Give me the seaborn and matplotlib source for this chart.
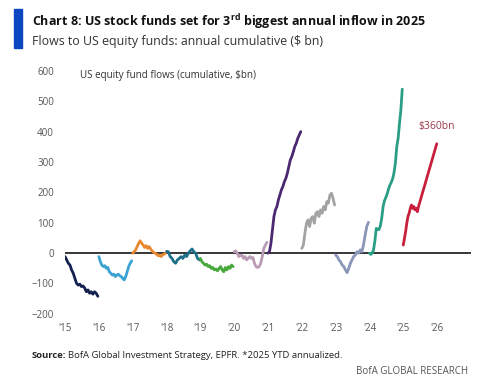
import numpy as np
import pandas as pd
import seaborn as sns
import matplotlib.pyplot as plt
from matplotlib.patches import Rectangle

sns.set_theme(style="white")
plt.rcParams['font.family'] = ['Open Sans', 'DejaVu Sans']
plt.rcParams['mathtext.fontset'] = 'custom'
plt.rcParams['mathtext.rm'] = 'Open Sans'
plt.rcParams['mathtext.bf'] = 'Open Sans:bold'

# cumulative flows ($bn), evenly spaced through each year
flows_2015 = [-12, -23, -34, -40, -56, -67, -84, -100, -106, -103, -111, -109, -116, -128, -122, -133, -128, -136, -128, -133, -143]
flows_2016 = [-12, -29, -40, -45, -42, -51, -48, -62, -67, -73, -70, -78, -73, -70, -75, -78, -84, -89, -78, -62, -45, -34, -26]
flows_2017 = [-1, 4, 10, 21, 32, 40, 32, 26, 18, 24, 15, 21, 13, 7, 2, -1, -4, -9, -7, -12, -7, -4, -1]
flows_2018 = [5, 4, -12, -18, -29, -34, -23, -18, -12, -18, -7, -12, -1, 7, 13, 4, -1, -18, -23]
flows_2019 = [-18, -29, -34, -40, -37, -45, -42, -51, -48, -56, -53, -59, -51, -45, -56, -62, -48, -56, -45, -51, -40, -45]
flows_2020 = [4, 7, -1, -12, -9, -7, -18, -12, -23, -18, -12, -18, -15, -34, -45, -48, -45, -34, -12, 15, 26, 35]
flows_2021 = [-1, 4, 32, 76, 120, 142, 153, 175, 191, 208, 219, 235, 246, 263, 285, 307, 318, 334, 351, 362, 378, 389, 400]
flows_2022 = [15, 26, 65, 98, 109, 87, 114, 120, 98, 131, 136, 120, 142, 131, 153, 142, 169, 164, 191, 197, 180, 158]
flows_2023 = [-7, -12, -23, -29, -40, -45, -56, -65, -51, -34, -23, -12, -7, 4, -1, 10, 4, 26, 59, 87, 101]
flows_2024 = [-1, -5, 0, 10, 40, 81, 78, 77, 90, 115, 153, 172, 183, 195, 211, 224, 233, 245, 265, 297, 351, 378, 428, 472, 540]
flows_2025_ytd = [26, 48, 70, 98, 120, 131, 147, 158, 147, 153, 142, 147, 136, 153]
ytd_share_2025 = 0.456
annualized_2025 = 360

years = list(range(2015, 2026))
series = [flows_2015, flows_2016, flows_2017, flows_2018, flows_2019, flows_2020,
          flows_2021, flows_2022, flows_2023, flows_2024]
colors = ['#14204f', '#3ba3d3', '#e8892f', '#1d6f8a', '#48a83c', '#b99bb5',
          '#4b2870', '#a3a3a3', '#8a96b8', '#2a9d85', '#c8203c']
tick_years = list(range(2015, 2027))
tick_labels = ["'%02d" % (y % 100) for y in tick_years]

rows = []
for yr, vals in zip(years[:-1], series):
    xs = yr + np.linspace(0, 0.97, len(vals))
    rows += [(str(yr), x, v) for x, v in zip(xs, vals)]
xs25 = 2025 + np.linspace(0, ytd_share_2025 * 0.99, len(flows_2025_ytd))
rows += [('2025', x, v) for x, v in zip(xs25, flows_2025_ytd)]
rows.append(('2025', 2025.99, annualized_2025))
df = pd.DataFrame(rows, columns=['year', 'x', 'flow'])

fig = plt.figure(figsize=(4.89, 3.91), dpi=100)
ax = fig.add_axes([0.133, 0.198, 0.830, 0.6205])

ax.axhline(0, color='black', lw=1.1, zorder=1)
sns.lineplot(data=df, x='x', y='flow', hue='year', palette=colors, sort=False,
             estimator=None, lw=2.0, legend=False, ax=ax, zorder=2)

ax.set_xlim(2015, 2027)
ax.set_ylim(-200, 600)
ax.set_xticks(tick_years)
ax.set_xticklabels(tick_labels)
ax.set_yticks(range(-200, 601, 100))
ax.tick_params(axis='both', length=0, labelsize=7, labelcolor='#555555')
ax.tick_params(axis='y', pad=8)
ax.tick_params(axis='x', pad=7)
ax.set_xlabel('')
ax.set_ylabel('')
for s in ax.spines.values():
    s.set_visible(False)

ax.text(2015.44, 585, 'US equity fund flows (cumulative, $bn)', fontsize=7.1,
        color='#333333', va='center', ha='left')
ax.text(2026.0, 416, '$360bn', fontsize=7.5, color='#9c3a4a', va='center', ha='center')

fig.patches.append(Rectangle((14 / 489, 1 - 48 / 391), 8 / 489, 39 / 391,
                             transform=fig.transFigure, color='#0a46c0'))
fig.text(32 / 489, 1 - 22 / 391,
         r'Chart 8: US stock funds set for 3$^{\mathbf{rd}}$ biggest annual inflow in 2025',
         fontsize=9.0, fontweight='bold', color='#111111', va='center', ha='left')
fig.text(32 / 489, 1 - 42 / 391, 'Flows to US equity funds: annual cumulative ($ bn)',
         fontsize=8.9, color='#333333', va='center', ha='left')

src = fig.text(32 / 489, 1 - 355 / 391, 'Source:', fontsize=6.8, fontweight='bold',
               color='#222222', va='center', ha='left')
fig.canvas.draw()
bb = src.get_window_extent().transformed(fig.transFigure.inverted())
fig.text(bb.x1 + 2 / 489, 1 - 355 / 391,
         'BofA Global Investment Strategy, EPFR. *2025 YTD annualized.',
         fontsize=6.8, color='#222222', va='center', ha='left')
fig.text(468 / 489, 1 - 371 / 391, 'BofA GLOBAL RESEARCH', fontsize=7,
         color='#555555', va='center', ha='right')

plt.savefig('out.png', dpi=100)
